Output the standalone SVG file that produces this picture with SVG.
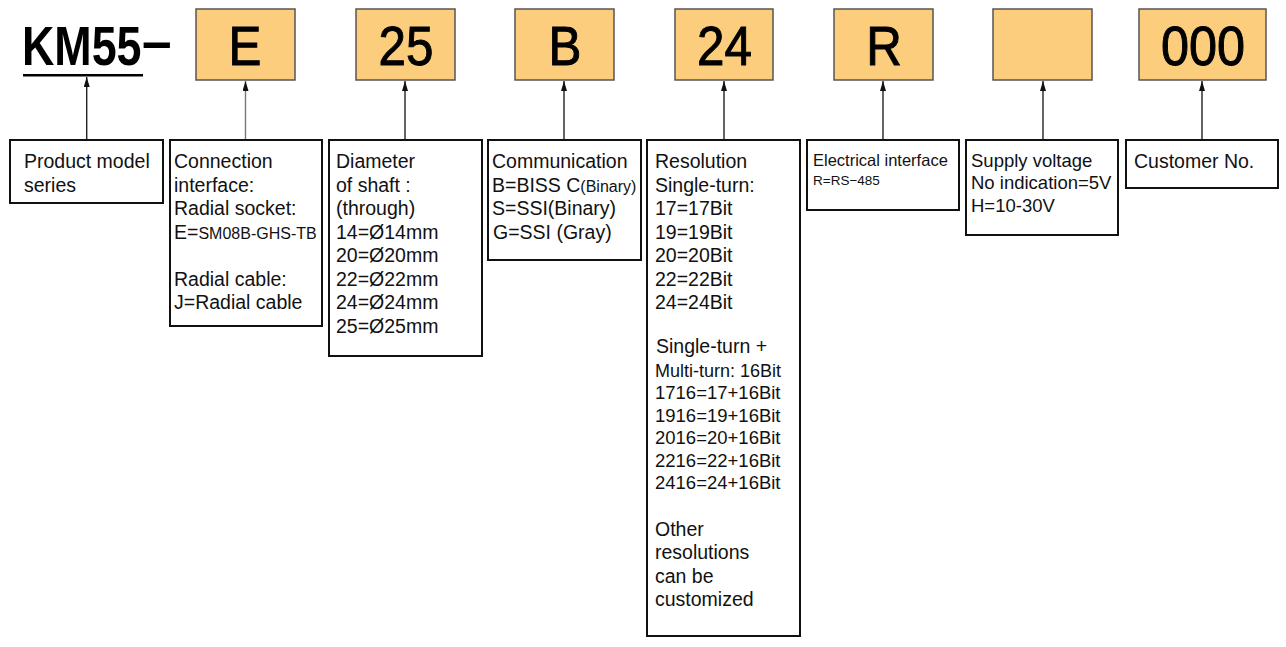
<svg xmlns="http://www.w3.org/2000/svg" width="1286" height="647" viewBox="0 0 1286 647">
<style>
.code{fill:#fccd7d;stroke:#555;stroke-width:1.5}
.big{font-family:"Liberation Sans",Arial,sans-serif;font-size:56px;fill:#000;stroke:#000;stroke-width:1;text-anchor:middle}
.km{font-family:"Liberation Sans",Arial,sans-serif;font-size:56px;font-weight:bold;fill:#000}
.box{fill:#fff;stroke:#111;stroke-width:2}
.t{font-family:"Liberation Sans",Arial,"Noto Sans CJK SC",sans-serif;font-size:19.5px;fill:#111}
.s{font-size:16px}
.m{font-size:18.5px}
.conn line{stroke:#222;stroke-width:1.4;marker-end:url(#ah)}
</style>
<defs>
<marker id="ah" markerUnits="userSpaceOnUse" markerWidth="10" markerHeight="6" refX="10" refY="3" orient="auto">
<path d="M0,0 L10,3 L0,6 z" fill="#111"/>
</marker>
</defs>
<rect width="1286" height="647" fill="#fff"/>

<g id="title">
<text class="km" transform="translate(22 65) scale(0.8 1)">KM55</text>
<text class="km" transform="translate(142 60) scale(0.95 1)">–</text>
<rect x="23" y="74" width="120" height="2.5" fill="#000"/>
</g>

<g id="code-E"><rect class="code" x="196" y="9" width="99" height="71"/><text class="big" transform="translate(245 65) scale(0.88 1)">E</text></g>
<g id="code-25"><rect class="code" x="356" y="9" width="99" height="71"/><text class="big" transform="translate(406 65) scale(0.88 1)">25</text></g>
<g id="code-B"><rect class="code" x="515" y="9" width="99" height="71"/><text class="big" transform="translate(565 65) scale(0.88 1)">B</text></g>
<g id="code-24"><rect class="code" x="675" y="9" width="98" height="71"/><text class="big" transform="translate(724.5 65) scale(0.88 1)">24</text></g>
<g id="code-R"><rect class="code" x="834" y="9" width="99" height="71"/><text class="big" transform="translate(884 65) scale(0.88 1)">R</text></g>
<g id="code-blank"><rect class="code" x="993" y="9" width="99" height="71"/></g>
<g id="code-000"><rect class="code" x="1139" y="9" width="127" height="71"/><text class="big" transform="translate(1203 65) scale(0.9 1)">000</text></g>

<g id="connectors" class="conn">
<line x1="86.7" y1="139" x2="86.7" y2="77"/>
<line x1="245.5" y1="139" x2="245.5" y2="81" style="stroke:#777"/>
<line x1="405" y1="139" x2="405" y2="81"/>
<line x1="564" y1="139" x2="564" y2="81"/>
<line x1="724" y1="139" x2="724" y2="81"/>
<line x1="883" y1="139" x2="883" y2="81"/>
<line x1="1043" y1="139" x2="1043" y2="81"/>
<line x1="1202" y1="139" x2="1202" y2="81"/>
</g>

<g id="desc-series">
<rect class="box" x="10" y="140" width="153" height="63"/>
<text class="t" x="24" y="168">Product model</text>
<text class="t" x="24" y="192">series</text>
</g>

<g id="desc-connection">
<rect class="box" x="170" y="140" width="152" height="186"/>
<text class="t" x="174" y="168">Connection</text>
<text class="t" x="174" y="192">interface:</text>
<text class="t" x="174" y="215">Radial socket:</text>
<text class="t" x="174" y="239">E=<tspan class="s">SM08B-GHS-TB</tspan></text>
<text class="t" x="174" y="286">Radial cable:</text>
<text class="t" x="174" y="309">J=Radial cable</text>
</g>

<g id="desc-shaft">
<rect class="box" x="329" y="140" width="153" height="216"/>
<text class="t" x="336" y="168">Diameter</text>
<text class="t" x="336" y="192">of shaft :</text>
<text class="t" x="336" y="215">(through)</text>
<text class="t" x="336" y="239">14=Ø14mm</text>
<text class="t" x="336" y="262">20=Ø20mm</text>
<text class="t" x="336" y="286">22=Ø22mm</text>
<text class="t" x="336" y="309">24=Ø24mm</text>
<text class="t" x="336" y="333">25=Ø25mm</text>
</g>

<g id="desc-communication">
<rect class="box" x="488" y="140" width="153" height="120"/>
<text class="t" x="492" y="168">Communication</text>
<text class="t" x="492" y="192">B=BISS C<tspan class="s">(Binary)</tspan></text>
<text class="t" x="492" y="215">S=SSI(Binary)</text>
<text class="t" x="493" y="239">G=SSI (Gray)</text>
</g>

<g id="desc-resolution">
<rect class="box" x="647" y="140" width="153" height="496"/>
<text class="t" x="655" y="168">Resolution</text>
<text class="t" x="655" y="192">Single-turn:</text>
<text class="t" x="655" y="215">17=17Bit</text>
<text class="t" x="655" y="239">19=19Bit</text>
<text class="t" x="655" y="262">20=20Bit</text>
<text class="t" x="655" y="286">22=22Bit</text>
<text class="t" x="655" y="309">24=24Bit</text>
<text class="t" x="656" y="353">Single-turn +</text>
<text class="t" x="655" y="376.5" style="font-size:18px">Multi-turn: 16Bit</text>
<text class="t m" x="655" y="399">1716=17+16Bit</text>
<text class="t m" x="655" y="422">1916=19+16Bit</text>
<text class="t m" x="655" y="444">2016=20+16Bit</text>
<text class="t m" x="655" y="467">2216=22+16Bit</text>
<text class="t m" x="655" y="489">2416=24+16Bit</text>
<text class="t" x="655" y="536">Other</text>
<text class="t" x="655" y="559">resolutions</text>
<text class="t" x="655" y="583">can be</text>
<text class="t" x="655" y="606">customized</text>
</g>

<g id="desc-electrical">
<rect class="box" x="807" y="140" width="152" height="70"/>
<text class="t" x="813" y="166" style="font-size:16.5px">Electrical interface</text>
<text class="t" x="813" y="185" style="font-size:13.5px">R=RS−485</text>
</g>

<g id="desc-voltage">
<rect class="box" x="966" y="140" width="152" height="95"/>
<text class="t m" x="971" y="166.5">Supply voltage</text>
<text class="t m" x="971" y="189">No indication=5V</text>
<text class="t m" x="971" y="211.5">H=10-30V</text>
</g>

<g id="desc-customer">
<rect class="box" x="1126" y="140" width="152" height="48"/>
<text class="t" x="1134" y="168">Customer No.</text>
</g>
</svg>
